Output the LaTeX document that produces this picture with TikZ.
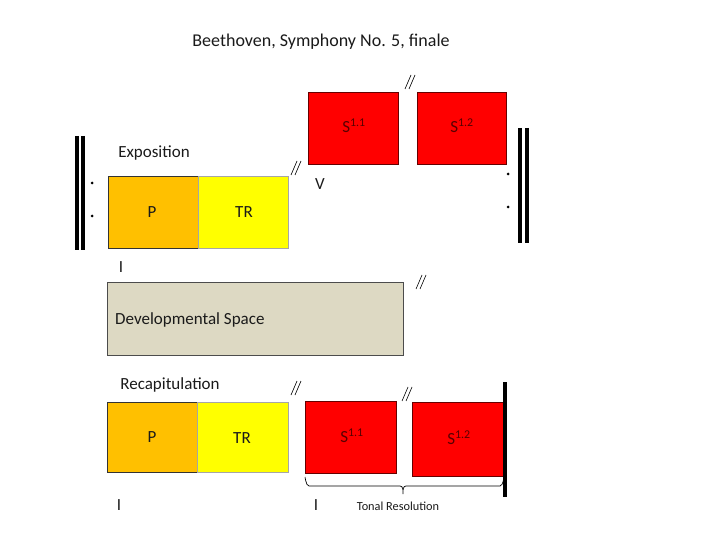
\documentclass[tikz,border=0pt]{standalone}
\usepackage{fontspec}
\setmainfont{Carlito}
\definecolor{porange}{HTML}{FFC000}
\definecolor{tryellow}{HTML}{FFFF00}
\definecolor{sred}{HTML}{FF0000}
\definecolor{devtan}{HTML}{DDD9C3}
\definecolor{txt}{HTML}{1A1A1A}
\tikzset{
  box/.style={draw, line width=0.8pt, inner sep=0pt, anchor=north west},
  pbox/.style={box, fill=porange, draw=black!80},
  trbox/.style={box, fill=tryellow, draw=black!35},
  sbox/.style={box, fill=sred, draw=red!40!black},
  devbox/.style={box, fill=devtan, draw=black!70},
  lbl/.style={inner sep=0pt, text=txt, font=\fontsize{17}{19}\selectfont},
  slbl/.style={inner sep=0pt, text=red!35!black, font=\fontsize{17}{19}\selectfont},
  bar/.style={line width=4pt},
  slash/.style={line width=0.6pt},
}
\newcommand{\dslash}[2]{%
  \draw[slash] (#1-5,#2+7) -- (#1+1,#2-7);
  \draw[slash] (#1-1,#2+7) -- (#1+5,#2-7);}
\begin{document}
\begin{tikzpicture}[x=1pt,y=-1pt]
\useasboundingbox (0,0) rectangle (720,540);
% title
\node[lbl, font=\fontsize{18}{20}\selectfont] (title) at (321,42) {Beethoven, Symphony No. 5, finale};
% exposition
\node[lbl] (expo) at (154,153) {Exposition};
\node[pbox, minimum width=90pt, minimum height=72pt] (ep) at (108,176) {};
\node[trbox, minimum width=90pt, minimum height=72pt] (etr) at (198,176) {};
\node[lbl] (epl) at (152,212) {P};
\node[lbl] (etrl) at (244,212) {TR};
\node[sbox, minimum width=90pt, minimum height=72pt] (es1) at (308,92) {};
\node[sbox, minimum width=89pt, minimum height=72pt] (es2) at (417,92) {};
\node[slbl] (es1l) at (354,126) {S\textsuperscript{1.1}};
\node[slbl] (es2l) at (462,126) {S\textsuperscript{1.2}};
\node[lbl] (v) at (320,184) {V};
\node[lbl] (ei) at (121,267) {I};
% repeat signs
\draw[bar] (77,136) -- (77,250);
\draw[bar] (83,136) -- (83,250);
\fill (92,183) circle (1.5pt);
\fill (92,216) circle (1.5pt);
\draw[bar] (520,128) -- (520,243);
\draw[bar] (527,128) -- (527,243);
\fill (508,174) circle (1.5pt);
\fill (508,207) circle (1.5pt);
% slashes
\dslash{410}{82}
\dslash{296}{168}
\dslash{421}{282}
\dslash{296}{388}
\dslash{407}{394}
% development
\node[devbox, minimum width=296pt, minimum height=73pt] (dev) at (107,282) {};
\node[lbl, anchor=west] (devl) at (115,320) {Developmental Space};
% recapitulation
\node[lbl] (recap) at (170,385) {Recapitulation};
\node[pbox, minimum width=90pt, minimum height=70pt] (rp) at (107,402) {};
\node[trbox, minimum width=91pt, minimum height=70pt] (rtr) at (197,402) {};
\node[lbl] (rpl) at (152,437) {P};
\node[lbl] (rtrl) at (242,438) {TR};
\node[sbox, minimum width=91pt, minimum height=72pt] (rs1) at (305,401) {};
\node[sbox, minimum width=91pt, minimum height=74pt] (rs2) at (412,402) {};
\node[slbl] (rs1l) at (352,436) {S\textsuperscript{1.1}};
\node[slbl] (rs2l) at (459,438) {S\textsuperscript{1.2}};
\draw[bar] (505,382) -- (505,497);
% brace
\draw[line width=0.7pt] (305,478) to[out=90,in=180] (309,486) -- (400,486)
  to[out=0,in=90] (403,494) to[out=90,in=180] (406,486) -- (500,486)
  to[out=0,in=90] (504,478);
\node[inner sep=0pt, text=txt, font=\fontsize{12.3}{14}\selectfont] (tonal) at (398,506) {Tonal Resolution};
\node[lbl] (ri1) at (119,505) {I};
\node[lbl] (ri2) at (316,505) {I};
\end{tikzpicture}
\end{document}
